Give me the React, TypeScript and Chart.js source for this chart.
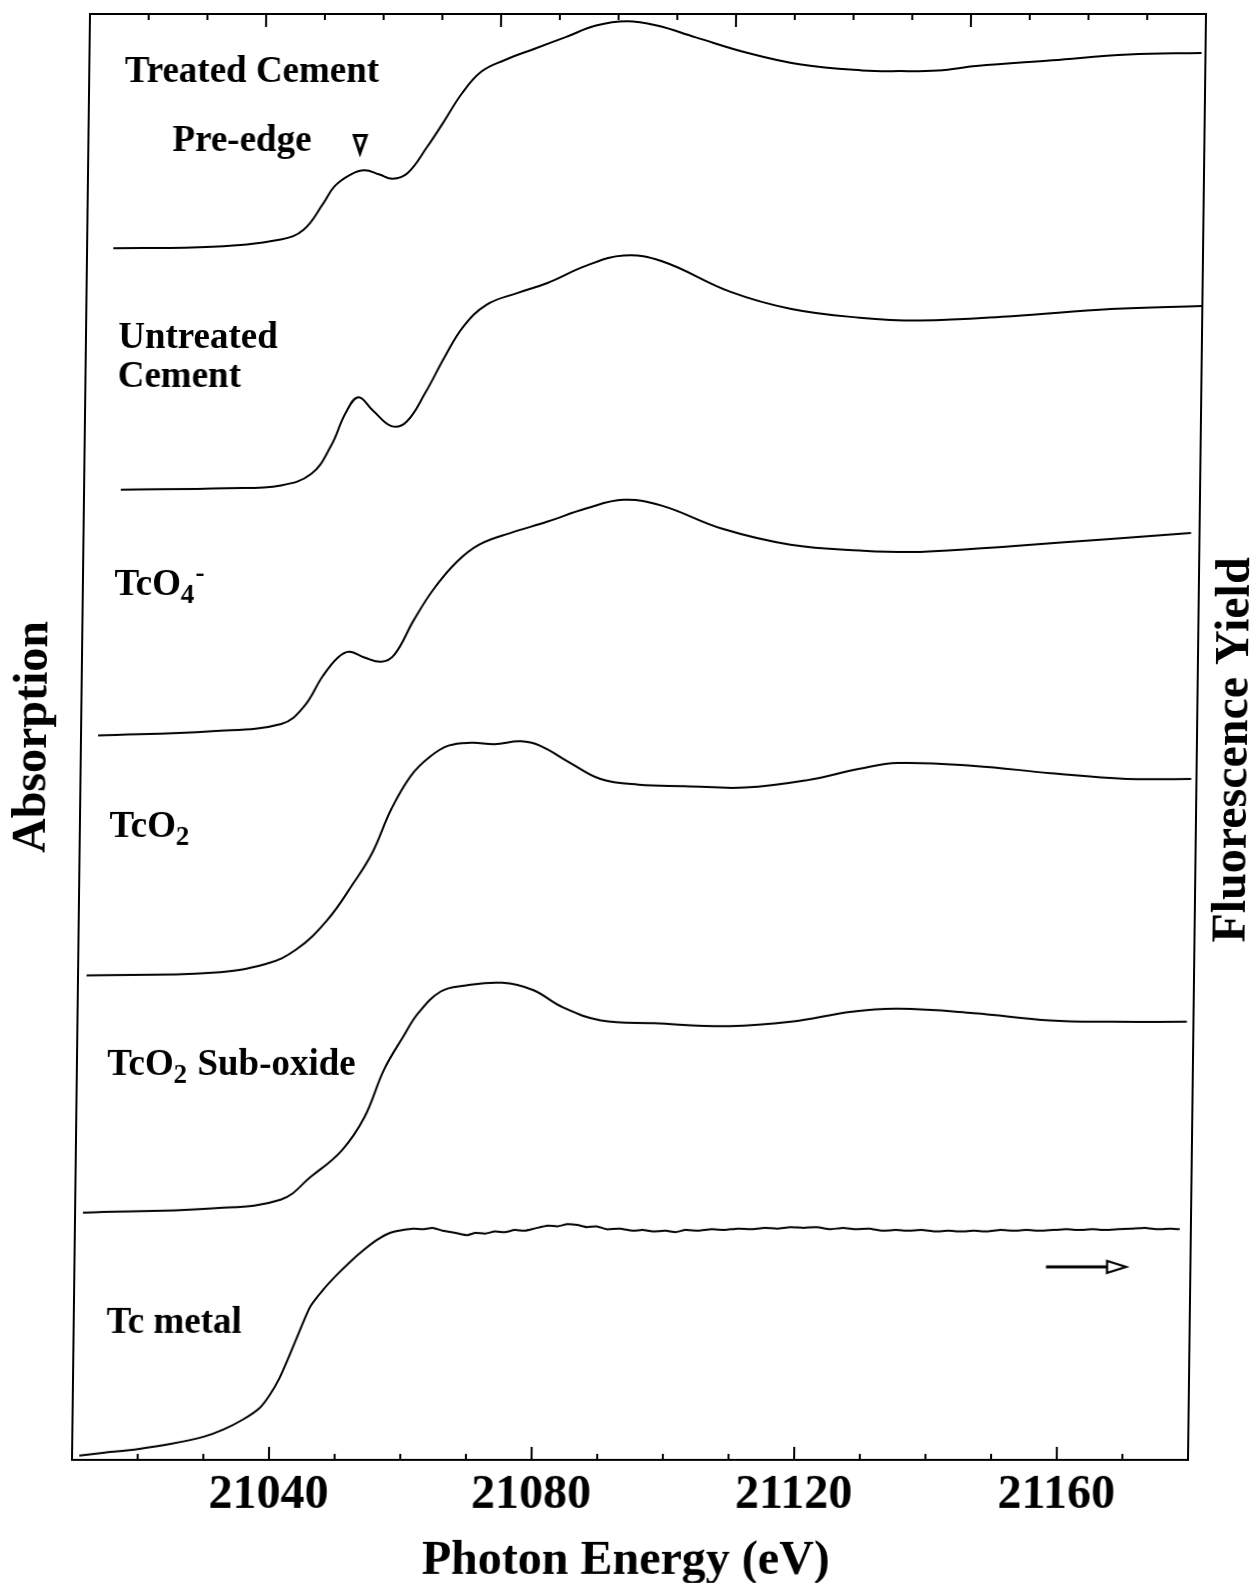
import React, { useEffect, useRef } from 'react';
import { Chart, registerables } from 'chart.js';

Chart.register(...registerables);

const FONT = '"Liberation Serif", "Times New Roman", Times, serif';

// ---- Data (photon energy in eV, absorption in stacked arbitrary units) ----
const treatedE = [21014.0, 21029.1, 21039.5, 21043.0, 21045.9, 21047.6, 21050.0, 21052.1, 21054.4, 21056.4, 21058.7, 21061.6, 21063.9, 21066.8, 21069.7, 21073.2, 21077.8, 21082.5, 21087.1, 21091.8, 21096.4, 21102.2, 21110.3, 21118.4, 21127.7, 21133.5, 21139.3, 21145.1, 21156.7, 21168.3, 21179.4];
const treatedY = [83.8, 83.9, 84.4, 85.1, 86.9, 88.1, 88.9, 89.2, 88.9, 88.6, 89.0, 90.8, 92.4, 94.5, 96.0, 96.8, 97.6, 98.4, 99.2, 99.5, 99.2, 98.4, 97.3, 96.5, 96.1, 96.05, 96.1, 96.4, 96.8, 97.2, 97.3];

const untreatedE = [21015.6, 21031.9, 21040.0, 21044.6, 21047.5, 21049.7, 21051.6, 21053.8, 21056.7, 21059.0, 21061.8, 21064.7, 21067.5, 21071.0, 21075.6, 21080.2, 21086.1, 21091.8, 21097.6, 21108.0, 21117.4, 21127.8, 21137.1, 21151.0, 21166.1, 21180.0];
const untreatedY = [67.1, 67.2, 67.4, 68.2, 70.1, 72.4, 73.5, 72.6, 71.5, 71.8, 73.8, 76.3, 78.4, 79.9, 80.7, 81.4, 82.6, 83.3, 82.9, 80.8, 79.6, 79.0, 78.8, 79.1, 79.6, 79.8];

const tco4E = [21012.6, 21030.0, 21040.5, 21043.9, 21046.7, 21049.0, 21050.7, 21053.0, 21055.6, 21057.6, 21060.5, 21063.4, 21066.9, 21070.3, 21075.0, 21080.7, 21086.5, 21092.2, 21098.0, 21107.3, 21117.7, 21128.2, 21137.5, 21151.4, 21166.5, 21178.7];
const tco4Y = [50.1, 50.4, 50.9, 52.1, 54.2, 55.5, 55.9, 55.5, 55.2, 55.7, 58.1, 60.2, 62.1, 63.3, 64.1, 64.9, 65.8, 66.4, 66.0, 64.4, 63.3, 62.9, 62.8, 63.2, 63.7, 64.1];

const tco2E = [21011.3, 21030.5, 21038.6, 21043.2, 21047.8, 21051.8, 21054.6, 21057.4, 21060.3, 21063.1, 21066.0, 21069.5, 21073.0, 21077.0, 21079.9, 21084.6, 21089.2, 21095.0, 21102.0, 21111.3, 21120.6, 21128.7, 21134.5, 21146.1, 21157.7, 21169.3, 21179.2];
const tco2Y = [33.5, 33.7, 34.3, 35.3, 37.3, 39.9, 42.0, 45.0, 47.3, 48.6, 49.4, 49.6, 49.5, 49.7, 49.4, 48.2, 47.1, 46.7, 46.6, 46.5, 47.0, 47.8, 48.2, 48.0, 47.5, 47.1, 47.1];

const subOxideE = [21011.2, 21030.9, 21041.3, 21045.9, 21050.5, 21053.9, 21056.8, 21059.7, 21061.9, 21065.3, 21068.9, 21074.6, 21079.3, 21083.9, 21089.7, 21097.8, 21109.4, 21118.7, 21128.0, 21135.0, 21146.5, 21158.1, 21167.4, 21179.0];
const subOxideY = [17.1, 17.4, 18.0, 19.6, 21.4, 23.7, 27.0, 29.3, 30.9, 32.4, 32.8, 33.0, 32.5, 31.3, 30.4, 30.2, 30.0, 30.3, 31.0, 31.2, 30.9, 30.4, 30.3, 30.3];

const metalE = [21011.1, 21015, 21020, 21025, 21030, 21033, 21036, 21038.5, 21040, 21041.5, 21043, 21044.5, 21046, 21048, 21050, 21052, 21054, 21056, 21058, 21060, 21061.5, 21063, 21064.5, 21066, 21068, 21069.8, 21071, 21072.5, 21074, 21075.5, 21077, 21078.5, 21080, 21082, 21083.5, 21085, 21086.5, 21088, 21089.5, 21091, 21093, 21095, 21096.5, 21098, 21100, 21101.5, 21103, 21105, 21107, 21109, 21111, 21113, 21115, 21117, 21119, 21121, 21123, 21125, 21127, 21129, 21131, 21133, 21135, 21137, 21139, 21141, 21143, 21145, 21147, 21149, 21151, 21153, 21155, 21157, 21159, 21161, 21163, 21165, 21167, 21169, 21171, 21173, 21175, 21177, 21178.3];
const metalY = [0.3, 0.5, 0.75, 1.1, 1.6, 2.1, 2.8, 3.6, 4.5, 5.7, 7.3, 9.0, 10.6, 11.8, 12.8, 13.7, 14.5, 15.2, 15.7, 15.9, 16.0, 15.95, 16.05, 15.85, 15.7, 15.55, 15.7, 15.65, 15.8, 15.75, 15.9, 15.85, 16.0, 16.2, 16.15, 16.3, 16.25, 16.1, 16.15, 15.95, 16.0, 15.85, 15.9, 15.8, 15.85, 15.75, 15.9, 15.85, 15.95, 15.9, 16.0, 15.95, 16.05, 16.0, 16.1, 16.05, 16.1, 15.95, 16.05, 15.95, 16.0, 15.85, 15.9, 15.85, 15.9, 15.8, 15.85, 15.8, 15.85, 15.8, 15.9, 15.85, 15.9, 15.85, 15.9, 15.95, 15.9, 15.95, 15.9, 15.95, 16.0, 16.05, 15.95, 16.0, 15.95];

const seriesNames = ['Treated Cement', 'Untreated Cement', 'TcO4-', 'TcO2', 'TcO2 Sub-oxide', 'Tc metal'];
const seriesE = [treatedE, untreatedE, tco4E, tco2E, subOxideE, metalE];
const seriesY = [treatedY, untreatedY, tco4Y, tco2Y, subOxideY, metalY];

// ---- Axis ticks ----
const xMajorTicks = [21040, 21080, 21120, 21160];
const xMinorTicks = [21020, 21030, 21050, 21060, 21070, 21090, 21100, 21110, 21130, 21140, 21150, 21170];
const topMajorTicks = [3, 7, 11, 15];
const topMinorTicks = [1, 2, 4, 5, 6, 8, 9, 10, 12, 13, 14, 16, 17, 18];

// ---- Annotation labels (energy, value at baseline) ----
const labelParts: [string, string][][] = [
  [['Treated Cement', 'n']],
  [['Pre-edge', 'n']],
  [['Untreated', 'n']],
  [['Cement', 'n']],
  [['TcO', 'n'], ['4', 'sub'], ['-', 'sup']],
  [['TcO', 'n'], ['2', 'sub']],
  [['TcO', 'n'], ['2', 'sub'], [' Sub-oxide', 'n']],
  [['Tc metal', 'n']],
];
const labelE = [21015.4, 21022.8, 21014.9, 21014.9, 21014.8, 21014.5, 21014.6, 21015.0];
const labelY = [95.3, 90.5, 76.9, 74.2, 59.8, 43.1, 26.6, 8.8];

const preEdgeMarkE = 21051.4;
const preEdgeMarkTopY = 91.6;
const preEdgeMarkApexY = 90.4;

const arrowStartE = 21158.0;
const arrowTipE = 21170.2;
const arrowY = 13.35;

const xTitle = 'Photon Energy (eV)';
const yTitle = 'Absorption';
const y2Title = 'Fluorescence Yield';

export default function App() {
  const ref = useRef<HTMLCanvasElement>(null);

  useEffect(() => {
    document.body.style.margin = '0';
    const canvas = ref.current;
    if (!canvas) return;

    const datasets = seriesNames.map((name, i) => ({
      label: name,
      data: seriesE[i].map((e, j) => ({ x: e, y: seriesY[i][j] })),
      borderColor: '#000',
      backgroundColor: '#000',
      borderWidth: 2,
      pointRadius: 0,
      fill: false,
      tension: i === 5 ? 0.2 : 0.4,
      xAxisID: 'x',
      yAxisID: 'y',
    }));

    const decor = {
      id: 'decor',
      afterDraw(chart: any) {
        const { ctx, chartArea: a, scales } = chart;
        const xs = scales.x;
        const ys = scales.y;
        const xt = scales.x2;
        ctx.save();
        ctx.strokeStyle = '#000';
        ctx.fillStyle = '#000';
        ctx.lineWidth = 2;
        ctx.strokeRect(a.left, a.top, a.right - a.left, a.bottom - a.top);

        const tick = (x: number, y0: number, y1: number) => {
          ctx.beginPath();
          ctx.moveTo(x, y0);
          ctx.lineTo(x, y1);
          ctx.stroke();
        };
        xMajorTicks.forEach((v) => tick(xs.getPixelForValue(v), a.bottom, a.bottom - 13));
        xMinorTicks.forEach((v) => tick(xs.getPixelForValue(v), a.bottom, a.bottom - 6));
        topMajorTicks.forEach((v) => tick(xt.getPixelForValue(v), a.top, a.top + 13));
        topMinorTicks.forEach((v) => tick(xt.getPixelForValue(v), a.top, a.top + 6));

        // labels
        ctx.textBaseline = 'alphabetic';
        ctx.textAlign = 'left';
        labelParts.forEach((parts, i) => {
          let x = xs.getPixelForValue(labelE[i]);
          const y = ys.getPixelForValue(labelY[i]);
          parts.forEach(([t, kind]) => {
            let size = 37;
            let dy = 0;
            if (kind === 'sub') { size = 27; dy = 8; }
            if (kind === 'sup') { size = 27; dy = -14; }
            ctx.font = `bold ${size}px ${FONT}`;
            ctx.fillText(t, x, y + dy);
            x += ctx.measureText(t).width + (kind === 'sub' ? 1 : 0);
          });
        });

        // pre-edge marker (open downward triangle)
        const mx = xs.getPixelForValue(preEdgeMarkE);
        const mTop = ys.getPixelForValue(preEdgeMarkTopY);
        const mApex = ys.getPixelForValue(preEdgeMarkApexY);
        ctx.lineWidth = 3;
        ctx.beginPath();
        ctx.moveTo(mx - 6, mTop);
        ctx.lineTo(mx + 6, mTop);
        ctx.lineTo(mx, mApex);
        ctx.closePath();
        ctx.stroke();

        // arrow
        const ax0 = xs.getPixelForValue(arrowStartE);
        const ax1 = xs.getPixelForValue(arrowTipE);
        const ay = ys.getPixelForValue(arrowY);
        const headLen = 19;
        ctx.lineWidth = 3;
        ctx.beginPath();
        ctx.moveTo(ax0, ay);
        ctx.lineTo(ax1 - headLen, ay);
        ctx.stroke();
        ctx.lineWidth = 2.2;
        ctx.beginPath();
        ctx.moveTo(ax1 - headLen, ay - 6);
        ctx.lineTo(ax1, ay);
        ctx.lineTo(ax1 - headLen, ay + 6);
        ctx.closePath();
        ctx.fillStyle = '#fff';
        ctx.fill();
        ctx.stroke();
        ctx.fillStyle = '#000';

        // axis titles
        ctx.font = `bold 48px ${FONT}`;
        ctx.textAlign = 'center';
        ctx.textBaseline = 'alphabetic';
        ctx.fillText(xTitle, 627, 1574);

        ctx.save();
        ctx.translate(37, 737);
        ctx.rotate(-Math.PI / 2);
        ctx.fillText(yTitle, 0, 0);
        ctx.restore();

        ctx.save();
        ctx.translate(1238, 750);
        ctx.rotate(-Math.PI / 2);
        ctx.fillText(y2Title, 0, 0);
        ctx.restore();

        ctx.restore();
      },
    };

    const hidden = {
      ticks: { display: false },
      grid: { display: false, drawTicks: false },
      border: { display: false },
    };

    const chart = new Chart(canvas, {
      type: 'line',
      data: { datasets },
      options: {
        animation: false,
        responsive: false,
        maintainAspectRatio: false,
        devicePixelRatio: 1,
        layout: { padding: 0 },
        plugins: {
          legend: { display: false },
          tooltip: { enabled: false },
          title: { display: false },
        },
        scales: {
          x: {
            type: 'linear',
            position: 'bottom',
            min: 21010,
            max: 21180,
            afterBuildTicks: (s: any) => {
              s.ticks = xMajorTicks.map((v) => ({ value: v }));
            },
            ticks: {
              color: '#000',
              font: { family: FONT, size: 48, weight: 'bold' },
              padding: 7,
              maxRotation: 0,
              autoSkip: false,
              callback: (v: any) => String(v),
            },
            grid: { display: false, drawTicks: false },
            border: { display: false },
            afterFit: (s: any) => { s.height = 123; },
          },
          x2: {
            type: 'linear',
            position: 'top',
            min: 0,
            max: 19,
            ...hidden,
            afterFit: (s: any) => { s.height = 14; },
          },
          y: {
            type: 'linear',
            position: 'left',
            min: 0,
            max: 100,
            ...hidden,
            afterFit: (s: any) => { s.width = 72; },
          },
          y2: {
            type: 'linear',
            position: 'right',
            min: 0,
            max: 1,
            ...hidden,
            afterFit: (s: any) => { s.width = 65; },
          },
        },
      } as any,
      plugins: [decor],
    });

    return () => chart.destroy();
  }, []);

  return (
    <div style={{ position: 'absolute', left: 0, top: 0, width: 1253, height: 1583, overflow: 'hidden', background: '#fff' }}>
      <canvas
        ref={ref}
        width={1253}
        height={1583}
        style={{ display: 'block', transform: 'skewX(-0.713deg)', transformOrigin: '0px 1460px' }}
      />
    </div>
  );
}
